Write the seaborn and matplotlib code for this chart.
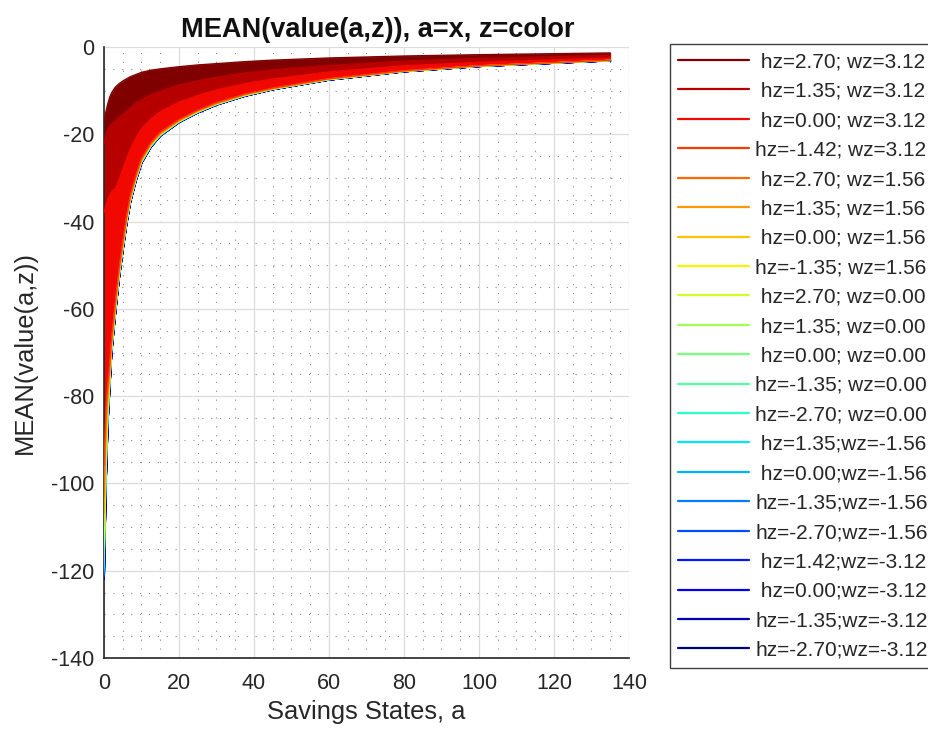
import numpy as np
import pandas as pd
import matplotlib
matplotlib.use("Agg")
import matplotlib.pyplot as plt
import seaborn as sns
from matplotlib.ticker import MultipleLocator

# Savings grid (x) at which the mean value function is reported
A_GRID = [0, 0.5, 1, 1.5, 2, 3, 4, 5, 6, 7, 8.5, 10, 12.5, 15, 20, 25, 30, 37.5, 45, 60, 80, 100, 135]

# Mean value for each shock state z, one list per state (same order as A_GRID)
S01 = [-17.0, -14.8, -13.0, -11.5, -10.5, -9.2, -8.4, -7.8, -7.3, -6.8, -6.3, -5.8,
       -5.3, -5.0, -4.5, -4.1, -3.8, -3.35, -3.0, -2.5, -2.05, -1.75, -1.35]
S02 = [-22.3, -19.9, -18.8, -18.2, -17.6, -17.0, -16.0, -15.5, -14.6, -14.0, -12.8, -12.0,
       -10.9, -10.1, -8.7, -7.7, -6.9, -5.9, -5.2, -4.2, -3.2, -2.6, -1.9]
S03 = [-38.0, -36.1, -34.9, -34.1, -33.1, -32.5, -30.3, -27.9, -25.6, -23.4, -20.8, -18.6,
       -16.5, -14.8, -12.6, -11.1, -9.8, -8.4, -7.3, -5.7, -4.3, -3.5, -2.5]
S04 = [-95.8, -83.0, -77.2, -72.7, -67.0, -58.4, -50.8, -44.6, -38.8, -34.1, -29.3, -25.5,
       -21.9, -19.5, -16.6, -14.5, -12.7, -10.8, -9.4, -7.25, -5.4, -4.27, -3.0]
S05 = [-103.1, -87.2, -79.4, -74.3, -67.9, -59.2, -51.4, -45.2, -39.3, -34.5, -29.7, -25.8,
       -22.2, -19.8, -16.8, -14.6, -12.9, -10.9, -9.5, -7.3, -5.5, -4.3, -3.04]
S06 = [-106.9, -89.8, -80.7, -75.0, -68.3, -59.6, -51.7, -45.5, -39.5, -34.7, -29.9, -25.9,
       -22.3, -19.9, -16.9, -14.7, -12.96, -10.96, -9.54, -7.34, -5.52, -4.32, -3.05]
S07 = [-109.7, -91.7, -81.7, -75.6, -68.6, -59.8, -52.0, -45.7, -39.7, -34.85, -30.0, -26.05,
       -22.4, -20.0, -16.94, -14.74, -13.0, -11.0, -9.57, -7.37, -5.54, -4.34, -3.06]
S08 = [-112.6, -93.6, -82.7, -76.2, -69.0, -60.1, -52.2, -45.85, -39.9, -35.0, -30.1, -26.15,
       -22.5, -20.05, -17.0, -14.8, -13.05, -11.05, -9.6, -7.4, -5.55, -4.35, -3.07]
S09 = [-114.4, -94.9, -83.4, -76.5, -69.2, -60.3, -52.4, -46.0, -40.0, -35.1, -30.2, -26.2,
       -22.56, -20.1, -17.04, -14.84, -13.08, -11.08, -9.62, -7.42, -5.56, -4.36, -3.08]
S10 = [-116.0, -95.9, -83.9, -76.8, -69.3, -60.4, -52.5, -46.1, -40.1, -35.2, -30.24, -26.28,
       -22.61, -20.14, -17.07, -14.87, -13.1, -11.1, -9.64, -7.44, -5.57, -4.37, -3.08]
S11 = [-117.3, -96.8, -84.4, -77.1, -69.5, -60.55, -52.6, -46.2, -40.2, -35.25, -30.3, -26.33,
       -22.65, -20.18, -17.1, -14.9, -13.13, -11.13, -9.65, -7.45, -5.58, -4.38, -3.09]
S12 = [-118.2, -97.4, -84.7, -77.3, -69.6, -60.6, -52.7, -46.24, -40.26, -35.3, -30.34, -26.36,
       -22.68, -20.2, -17.12, -14.92, -13.14, -11.14, -9.66, -7.46, -5.58, -4.38, -3.09]
S13 = [-119.2, -98.1, -85.0, -77.45, -69.7, -60.7, -52.76, -46.3, -40.32, -35.35, -30.38, -26.4,
       -22.71, -20.23, -17.14, -14.94, -13.16, -11.16, -9.67, -7.47, -5.59, -4.39, -3.09]
S14 = [-119.7, -98.5, -85.2, -77.56, -69.75, -60.78, -52.81, -46.34, -40.36, -35.38, -30.4, -26.42,
       -22.73, -20.24, -17.15, -14.95, -13.16, -11.16, -9.68, -7.48, -5.59, -4.39, -3.09]
S15 = [-120.3, -98.85, -85.4, -77.67, -69.81, -60.84, -52.86, -46.38, -40.39, -35.41, -30.43, -26.44,
       -22.75, -20.26, -17.16, -14.96, -13.17, -11.17, -9.68, -7.48, -5.59, -4.39, -3.09]
S16 = [-120.9, -99.2, -85.6, -77.78, -69.87, -60.89, -52.9, -46.42, -40.43, -35.44, -30.45, -26.46,
       -22.76, -20.27, -17.18, -14.98, -13.18, -11.18, -9.69, -7.49, -5.6, -4.4, -3.1]
S17 = [-121.2, -99.5, -85.7, -77.85, -69.92, -60.93, -52.94, -46.45, -40.45, -35.46, -30.47, -26.47,
       -22.78, -20.28, -17.18, -14.98, -13.19, -11.19, -9.69, -7.49, -5.6, -4.4, -3.1]
S18 = [-121.5, -99.7, -85.8, -77.91, -69.95, -60.96, -52.96, -46.47, -40.47, -35.48, -30.48, -26.48,
       -22.79, -20.29, -17.19, -14.99, -13.19, -11.19, -9.7, -7.5, -5.6, -4.4, -3.1]
S19 = [-121.7, -99.8, -85.9, -77.94, -69.97, -60.97, -52.98, -46.48, -40.48, -35.49, -30.49, -26.49,
       -22.79, -20.29, -17.19, -14.99, -13.2, -11.2, -9.7, -7.5, -5.6, -4.4, -3.1]
S20 = [-121.9, -99.9, -86.0, -77.98, -69.99, -60.99, -52.99, -46.49, -40.49, -35.5, -30.5, -26.5,
       -22.8, -20.3, -17.2, -15.0, -13.2, -11.2, -9.7, -7.5, -5.6, -4.4, -3.1]
S21 = [-122.0, -100.0, -86.0, -78.0, -70.0, -61.0, -53.0, -46.5, -40.5, -35.5, -30.5, -26.5,
       -22.8, -20.3, -17.2, -15.0, -13.2, -11.2, -9.7, -7.5, -5.6, -4.4, -3.1]

SERIES = [S01, S02, S03, S04, S05, S06, S07, S08, S09, S10, S11,
          S12, S13, S14, S15, S16, S17, S18, S19, S20, S21]

LABELS = [
    " hz=2.70; wz=3.12", " hz=1.35; wz=3.12", " hz=0.00; wz=3.12", "hz=-1.42; wz=3.12",
    " hz=2.70; wz=1.56", " hz=1.35; wz=1.56", " hz=0.00; wz=1.56", "hz=-1.35; wz=1.56",
    " hz=2.70; wz=0.00", " hz=1.35; wz=0.00", " hz=0.00; wz=0.00", "hz=-1.35; wz=0.00",
    "hz=-2.70; wz=0.00", " hz=1.35;wz=-1.56", " hz=0.00;wz=-1.56", "hz=-1.35;wz=-1.56",
    "hz=-2.70;wz=-1.56", " hz=1.42;wz=-3.12", " hz=0.00;wz=-3.12", "hz=-1.35;wz=-3.12",
    "hz=-2.70;wz=-3.12",
]

X_TICKS = [0, 20, 40, 60, 80, 100, 120, 140]
Y_TICKS = [-140, -120, -100, -80, -60, -40, -20, 0]

TITLE = "MEAN(value(a,z)), a=x, z=color"
X_LABEL = "Savings States, a"
Y_LABEL = "MEAN(value(a,z))"

sns.set_style("white")
plt.rcParams["font.family"] = ["Liberation Sans", "DejaVu Sans"]
plt.rcParams["axes.unicode_minus"] = False

INK = "#262626"

fig = plt.figure(figsize=(9.29, 7.33), dpi=100)
ax = fig.add_axes([104 / 929, 1 - 658 / 733, 525 / 929, 611 / 733])

colors = sns.color_palette(list(plt.get_cmap("jet_r")(np.linspace(0, 1, len(SERIES)))))

df = pd.concat(
    [pd.DataFrame({"a": A_GRID, "value": vals, "z": lab}) for lab, vals in zip(LABELS, SERIES)],
    ignore_index=True,
)

# colour the gaps between neighbouring state curves
for k in range(len(SERIES) - 1):
    ax.fill_between(A_GRID, SERIES[k], SERIES[k + 1], facecolor=colors[k],
                    edgecolor=colors[k], linewidth=0.6, zorder=2)

# one line per state
line_of = {}
for k in reversed(range(len(SERIES))):
    sub = df[df["z"] == LABELS[k]]
    sns.lineplot(data=sub, x="a", y="value", color=colors[k], linewidth=0.9,
                 ax=ax, legend=False, sort=False, estimator=None, zorder=3)
    line_of[k] = ax.lines[-1]

ax.set_xlim(0, 140)
ax.set_ylim(-140, 0)
ax.set_xticks(X_TICKS)
ax.set_yticks(Y_TICKS)
ax.xaxis.set_minor_locator(MultipleLocator(5))
ax.yaxis.set_minor_locator(MultipleLocator(5))

ax.set_axisbelow(True)
ax.grid(which="major", color="#DCDCDC", linewidth=0.9)
ax.grid(which="minor", color="#8C8C8C", linestyle=(0, (1, 7)), linewidth=0.8)

for side in ("top", "right"):
    ax.spines[side].set_visible(False)
for side in ("left", "bottom"):
    ax.spines[side].set_color(INK)
    ax.spines[side].set_linewidth(1.2)

ax.tick_params(which="major", direction="in", length=4, width=1.0, color=INK,
               labelsize=15.5, labelcolor=INK)
ax.tick_params(axis="x", which="major", pad=11)
ax.tick_params(axis="y", which="major", pad=7)
ax.tick_params(which="minor", length=0)

ax.set_title(TITLE, fontsize=19.5, fontweight="bold", color="#111111", pad=7, x=0.521)
ax.set_xlabel(X_LABEL, fontsize=18.4, color=INK)
ax.set_ylabel(Y_LABEL, fontsize=18.4, color=INK)
ax.xaxis.set_label_coords(0.5, (658 - 700) / 611)
ax.yaxis.set_label_coords((37 - 104) / 525, 0.5)

handles = [line_of[k] for k in range(len(SERIES))]
leg = fig.legend(handles, LABELS, loc="upper left",
                 bbox_to_anchor=(670 / 929, 1 - 44 / 733), bbox_transform=fig.transFigure,
                 borderaxespad=0, frameon=True, fancybox=False, fontsize=15,
                 handlelength=3.4, handletextpad=0.3, borderpad=0.4, labelspacing=0.5)
leg.get_frame().set_edgecolor("#404040")
leg.get_frame().set_linewidth(1.0)
leg.get_frame().set_alpha(1.0)
for h in leg.legend_handles:
    h.set_linewidth(1.6)
for t in leg.get_texts():
    t.set_color(INK)

fig.savefig("out.png", dpi=100)
